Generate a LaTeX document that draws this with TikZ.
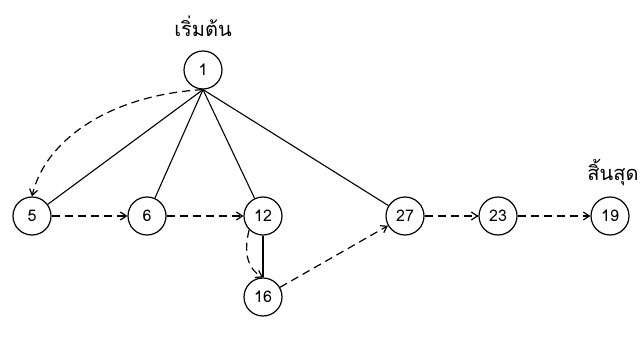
\documentclass[tikz,border=0pt]{standalone}
\usepackage{fontspec}
\setmainfont[Script=Thai]{Loma}
\usetikzlibrary{arrows.meta}
\begin{document}
\begin{tikzpicture}[x=1pt,y=-1pt,
  ev/.style={draw, circle, minimum size=38pt, inner sep=0pt, line width=1.2pt, font=\fontsize{16}{18}\selectfont},
  act/.style={line width=1.1pt},
  dum/.style={line width=1.2pt, dash pattern=on 8pt off 5pt, -{Straight Barb[length=6pt,width=8pt]}},
  lbl/.style={font=\fontsize{20}{24}\selectfont}]
\useasboundingbox (0,0) rectangle (642,339);
\node[ev] (n1) at (203,70) {1};
\node[ev] (n5) at (32,216) {5};
\node[ev] (n6) at (147,216) {6};
\node[ev] (n12) at (263,216) {12};
\node[ev] (n27) at (405,216) {27};
\node[ev] (n23) at (498,216) {23};
\node[ev] (n19) at (610,216) {19};
\node[ev] (n16) at (263,297) {16};
\node[lbl] (start) at (203,26) {เริ่มต้น};
\node[lbl] (finish) at (613,173) {สิ้นสุด};
\draw[act] (n1.south) -- (n5);
\draw[act] (n1.south) -- (n6);
\draw[act] (n1.south) -- (n12);
\draw[act] (n1.south) -- (n27);
\draw[act] (n12) -- (n16);
\draw[dum] (n1.south) .. controls (110,95) and (45,140) .. (n5.north);
\draw[dum] (n5) -- (n6);
\draw[dum] (n6) -- (n12);
\draw[dum] (n27) -- (n23);
\draw[dum] (n23) -- (n19);
\draw[dum] (n12.south west) .. controls (244,250) and (246,268) .. (n16.north);
\draw[dum] (n16) -- (n27);
\end{tikzpicture}
\end{document}
